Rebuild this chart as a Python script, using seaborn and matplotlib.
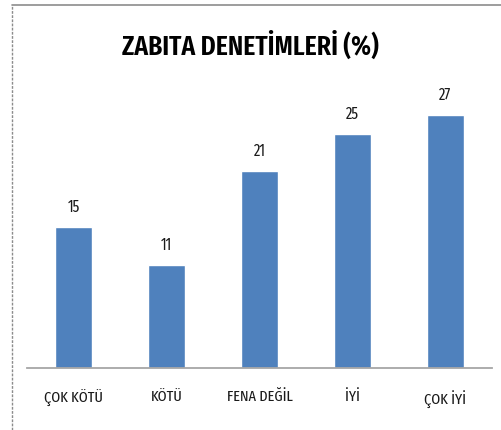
import matplotlib
matplotlib.use("Agg")
import matplotlib.pyplot as plt
import seaborn as sns
import pandas as pd
from matplotlib.lines import Line2D

# data
categories = ["ÇOK KÖTÜ", "KÖTÜ", "FENA DEĞİL", "İYİ", "ÇOK İYİ"]
values = [15, 11, 21, 25, 27]
title = "ZABITA DENETİMLERİ (%)"

df = pd.DataFrame({"kategori": categories, "yuzde": values})

sns.set_style("white")
plt.rcParams["font.family"] = ["Fira Sans Extra Condensed", "Fira Sans Condensed",
                               "Carlito", "DejaVu Sans"]

fig = plt.figure(figsize=(5.01, 4.30), dpi=100)
ax = fig.add_axes([0.054, 0.1453, 0.928, 0.6524])

sns.barplot(data=df, x="kategori", y="yuzde", color="#4F81BD",
            saturation=1, width=0.4, ax=ax)

ax.set_ylim(0, 30)
ax.set_xlim(-0.5, len(categories) - 0.5)
ax.set_xlabel("")
ax.set_ylabel("")
ax.set_yticks([])
for s in ["top", "right", "left"]:
    ax.spines[s].set_visible(False)
ax.spines["bottom"].set_color("#A6A6A6")
ax.spines["bottom"].set_linewidth(1.3)
ax.tick_params(axis="x", length=0, pad=16, labelsize=11.2, colors="#1a1a1a")

for p, v in zip(ax.patches, values):
    ax.annotate(str(v), (p.get_x() + p.get_width() / 2, p.get_height()),
                xytext=(0, 14), textcoords="offset points",
                ha="center", va="center", fontsize=11.5, color="#1a1a1a")

fig.text(0.5, 0.893, title, ha="center", va="center",
         fontsize=20, fontweight=600, color="black")

# chart frame (top and dashed left edge)
fig.add_artist(Line2D([12 / 501, 1], [1 - 5 / 430, 1 - 5 / 430],
                      transform=fig.transFigure, color="#8C8C8C", lw=1.2))
fig.add_artist(Line2D([12 / 501, 12 / 501], [0, 1 - 5 / 430],
                      transform=fig.transFigure, color="#8C8C8C", lw=1.0,
                      linestyle=(0, (2, 1))))

fig.savefig("out.png", dpi=100)
